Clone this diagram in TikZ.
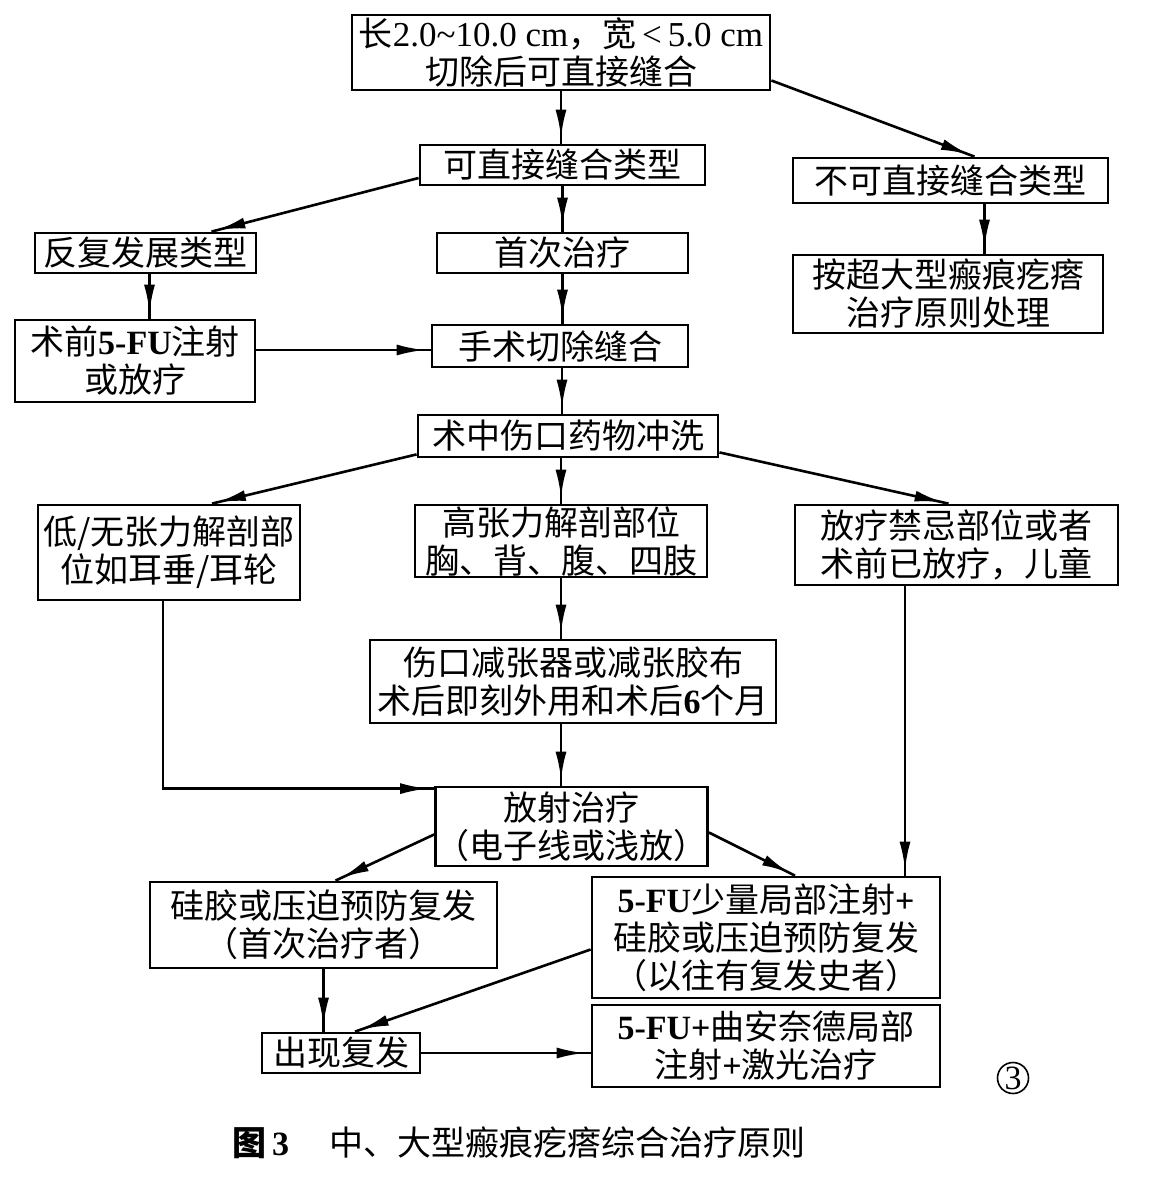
\documentclass[tikz,border=0pt]{standalone}
\usepackage{fontspec}
\setmainfont{Liberation Serif}
\newfontfamily\cjk{Noto Sans CJK SC}
\usetikzlibrary{arrows.meta,decorations.markings,calc}
\newcommand\latn[1]{{\rmfamily #1}}
\newcommand\latb[1]{{\rmfamily\bfseries #1}}
\tikzset{
  box/.style={draw, line width=1.4pt, font=\cjk\fontsize{17}{19}\selectfont, align=center, inner sep=0pt},
  arr/.style={line width=1.3pt, postaction={decorate},
    decoration={markings, mark=at position -3pt with {\arrow{Latex[length=14pt,width=5.5pt]}}}},
  plain/.style={font=\cjk\fontsize{17}{19}\selectfont, inner sep=0pt}
}
\begin{document}
\begin{tikzpicture}[x=0.5pt,y=-0.5pt]
\fill[white] (0,0) rectangle (1176,1177);
\useasboundingbox (0,0) rectangle (1176,1177);

\node[box, minimum width=209pt, minimum height=37.5pt] (top) at (561,52.5)
  {长{\rmfamily\fontsize{17.5}{19}\selectfont 2.0\textasciitilde10.0 cm}，宽{\rmfamily\fontsize{17.5}{19}\selectfont\,<\,5.0 cm}\\切除后可直接缝合};
\node[box, minimum width=142.5pt, minimum height=20pt] (kz) at (562.5,165) {可直接缝合类型};
\node[box, minimum width=157.5pt, minimum height=22.5pt] (bkz) at (950.5,180.5) {不可直接缝合类型};
\node[box, minimum width=155pt, minimum height=39pt] (cdx) at (948,294) {按超大型瘢痕疙瘩\\治疗原则处理};
\node[box, minimum width=110.5pt, minimum height=20pt] (ff) at (145.5,253) {反复发展类型};
\node[box, minimum width=125.5pt, minimum height=20pt] (sc) at (562.5,253) {首次治疗};
\node[box, minimum width=120pt, minimum height=41pt] (sq) at (135,361) {术前\latb{5-FU}注射\\或放疗};
\node[box, minimum width=128pt, minimum height=21pt] (ss) at (560,346) {手术切除缝合};
\node[box, minimum width=150pt, minimum height=21pt] (sz) at (568,436) {术中伤口药物冲洗};
\node[box, minimum width=131pt, minimum height=47.5pt] (dz) at (169,552.5) {低/无张力解剖部\\位如耳垂/耳轮};
\node[box, minimum width=146pt, minimum height=36pt] (gz) at (561,541) {高张力解剖部位\\胸、背、腹、四肢};
\node[box, minimum width=161.5pt, minimum height=40pt] (fj) at (956.5,545) {放疗禁忌部位或者\\术前已放疗，儿童};
\node[box, minimum width=203pt, minimum height=41.5pt] (jz) at (573,681.5) {伤口减张器或减张胶布\\术后即刻外用和术后\latb{6}个月};
\node[box, minimum width=134.5pt, minimum height=39.5pt] (fs) at (571.5,826.5) {放射治疗\\（电子线或浅放）};
\node[box, minimum width=173.5pt, minimum height=43pt] (gj) at (323.5,925) {硅胶或压迫预防复发\\（首次治疗者）};
\node[box, minimum width=174pt, minimum height=60.5pt] (fu1) at (766,937.5) {\latb{5-FU}少量局部注射\latb{+}\\硅胶或压迫预防复发\\（以往有复发史者）};
\node[box, minimum width=174pt, minimum height=41pt] (fu2) at (766,1046) {\latb{5-FU+}曲安奈德局部\\注射\latb{+}激光治疗};
\node[box, minimum width=79pt, minimum height=20pt] (cx) at (341,1053) {出现复发};
\node[draw, circle, line width=0.8pt, minimum size=15.5pt, inner sep=0pt, font=\rmfamily\fontsize{17}{17}\selectfont] (num) at (1013,1078) {3};
\node[plain, anchor=west] (cap) at (232,1143) {\textbf{图}\,\latb{3}\hspace{20pt}中、大型瘢痕疙瘩综合治疗原则};

% connectors
\draw[arr] (top.south) -- (top.south |- kz.north);
\draw[arr] ([yshift=-14pt]top.east) -- ([xshift=12pt]bkz.north);
\draw[arr] ([xshift=17pt]bkz.south) -- ([xshift=17pt]bkz.south |- cdx.north);
\draw[arr] ([yshift=-6.5pt]kz.west) -- ([xshift=33pt]ff.north);
\draw[arr] (kz.south) -- (kz.south |- sc.north);
\draw[arr] ([xshift=2pt]ff.south) -- ([xshift=2pt]ff.south |- sq.north);
\draw[arr] (sc.south) -- (sc.south |- ss.north);
\draw[arr] ([yshift=5.5pt]sq.east) -- ([yshift=5.5pt]sq.east -| ss.west);
\draw[arr] ([xshift=1pt]ss.south) -- ([xshift=1pt]ss.south |- sz.north);
\draw[arr] ([yshift=2pt]sz.south west) -- ([xshift=21.5pt]dz.north);
\draw[arr] (sz.south -| gz.north) -- (gz.north);
\draw[arr] ([yshift=3pt]sz.south east) -- ([xshift=-4pt]fj.north);
\draw[arr] (gz.south) -- (gz.south |- jz.north);
\draw[arr] (jz.south -| gz.south) -- (fs.north -| gz.south);
\draw[arr] ([xshift=-3pt]dz.south) |- ([yshift=-1.5pt]fs.north west);
\draw[arr] ([xshift=-25.75pt]fj.south) -- ([xshift=-25.75pt]fj.south |- fu1.north);
\draw[arr] ([yshift=-4pt]fs.west) -- ([xshift=6pt]gj.north);
\draw[arr] ([yshift=-3pt]fs.east) -- ([xshift=14.5pt]fu1.north);
\draw[arr] (gj.south) -- (gj.south |- cx.north);
\draw[arr] ([yshift=-6pt]fu1.west) -- ([xshift=7pt]cx.north);
\draw[arr] (cx.east) -- (cx.east -| fu2.west);
\end{tikzpicture}
\end{document}
